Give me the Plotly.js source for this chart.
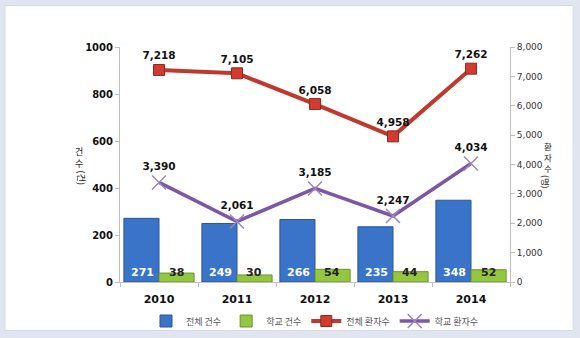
<!DOCTYPE html>
<html>
<head>
<meta charset="utf-8">
<script src="https://cdn.plot.ly/plotly-3.0.1.min.js"></script>
<style>html,body{margin:0;padding:0;background:#fff}#chart{width:580px;height:338px}</style>
</head>
<body>
<div id="chart"></div>
<script>
var years = ['2010', '2011', '2012', '2013', '2014'];
var totalCases = [271, 249, 266, 235, 348];
var schoolCases = [38, 30, 54, 44, 52];
var totalPatients = [7218, 7105, 6058, 4958, 7262];
var schoolPatients = [3390, 2061, 3185, 2247, 4034];

var numFont = 'DejaVu Sans, Verdana, sans-serif';
var krFont = 'Noto Sans CJK KR, sans-serif';

var traces = [
  {type: 'bar', name: '전체 건수', x: years, y: totalCases,
   marker: {color: '#3a74c8', line: {color: '#2a5597', width: 1}},
   hoverinfo: 'skip'},
  {type: 'bar', name: '학교 건수', x: years, y: schoolCases,
   marker: {color: '#94c640', line: {color: '#6a9428', width: 1}},
   hoverinfo: 'skip'},
  {type: 'scatter', name: '전체 환자수', x: years, y: totalPatients, yaxis: 'y2',
   mode: 'lines+markers+text', texttemplate: '%{y:,}', textposition: 'top center',
   textfont: {family: numFont, size: 10.5, color: '#111', weight: 'bold'},
   line: {color: '#c0392f', width: 4},
   marker: {symbol: 'square', size: 11, color: '#d23b30', line: {color: '#8e2a22', width: 1}},
   cliponaxis: false},
  {type: 'scatter', name: '학교 환자수', x: years, y: schoolPatients, yaxis: 'y2',
   mode: 'lines+markers+text', texttemplate: '%{y:,}', textposition: 'top center',
   textfont: {family: numFont, size: 10.5, color: '#111', weight: 'bold'},
   line: {color: '#7a58a6', width: 3.5},
   marker: {symbol: 'x-thin-open', size: 14, color: '#9b85bf', line: {color: '#9b85bf', width: 1.5}},
   cliponaxis: false}
];

var annotations = [];
for (var i = 0; i < years.length; i++) {
  annotations.push({x: i, y: 0, xref: 'x', yref: 'y', text: String(totalCases[i]),
    showarrow: false, yanchor: 'bottom', xshift: -17, yshift: 1,
    font: {family: numFont, size: 11, color: '#ffffff', weight: 'bold'}});
  annotations.push({x: i, y: 0, xref: 'x', yref: 'y', text: String(schoolCases[i]),
    showarrow: false, yanchor: 'bottom', xshift: 17, yshift: 1,
    font: {family: numFont, size: 11, color: '#222', weight: 'bold'}});
}
// vertical axis titles (upright hangul, rotated brackets)
annotations.push({xref: 'paper', yref: 'paper', x: -0.121, y: 0.53, text: '건<br>수',
  showarrow: false, font: {family: krFont, size: 9, color: '#222'}, align: 'center'});
annotations.push({xref: 'paper', yref: 'paper', x: -0.121, y: 0.443, text: '(건)', textangle: 90,
  showarrow: false, font: {family: krFont, size: 9, color: '#222'}});
annotations.push({xref: 'paper', yref: 'paper', x: 1.113, y: 0.53, text: '환<br>자<br>수',
  showarrow: false, font: {family: krFont, size: 8.5, color: '#222'}, align: 'center'});
annotations.push({xref: 'paper', yref: 'paper', x: 1.113, y: 0.425, text: '(명)', textangle: 90,
  showarrow: false, font: {family: krFont, size: 8.5, color: '#222'}});

var layout = {
  width: 580, height: 338,
  margin: {l: 120, r: 70, t: 47, b: 56, pad: 0, autoexpand: false},
  paper_bgcolor: '#e0e5f0',
  plot_bgcolor: 'rgba(0,0,0,0)',
  barmode: 'group', bargap: 0.1, bargroupgap: 0,
  showlegend: true,
  legend: {orientation: 'h', x: 0.5, xanchor: 'center', y: -0.166, yanchor: 'middle',
    font: {family: krFont, size: 9, color: '#555'}, bgcolor: 'rgba(0,0,0,0)',
    itemwidth: 30, tracegroupgap: 0},
  xaxis: {type: 'category', range: [-0.5, 4.5], showgrid: false, zeroline: false,
    showline: true, linecolor: '#bfbfbf', linewidth: 1, automargin: false,
    ticks: 'outside', tickson: 'boundaries', ticklen: 4, tickcolor: '#bfbfbf',
    ticklabelstandoff: 7,
    tickfont: {family: numFont, size: 11, color: '#111', weight: 'bold'}},
  yaxis: {range: [0, 1000], dtick: 200, showgrid: false, zeroline: false,
    showline: true, linecolor: '#bfbfbf', linewidth: 1, automargin: false,
    ticks: 'outside', ticklen: 4, tickcolor: '#bfbfbf',
    tickfont: {family: numFont, size: 10, color: '#111', weight: 'bold'}},
  yaxis2: {overlaying: 'y', side: 'right', range: [0, 8000], dtick: 1000, tickformat: ',',
    showgrid: false, zeroline: false, showline: true, linecolor: '#bfbfbf', linewidth: 1,
    automargin: false, ticks: 'outside', ticklen: 4, tickcolor: '#bfbfbf',
    tickfont: {family: numFont, size: 9, color: '#333'}},
  shapes: [{type: 'rect', xref: 'paper', yref: 'paper', x0: -0.295, x1: 1.162, y0: -0.206, y1: 1.176,
    fillcolor: '#ffffff', line: {color: '#d5dae8', width: 1}, layer: 'below'}],
  annotations: annotations
};

Plotly.newPlot('chart', traces, layout, {displayModeBar: false, staticPlot: true});
</script>
</body>
</html>
